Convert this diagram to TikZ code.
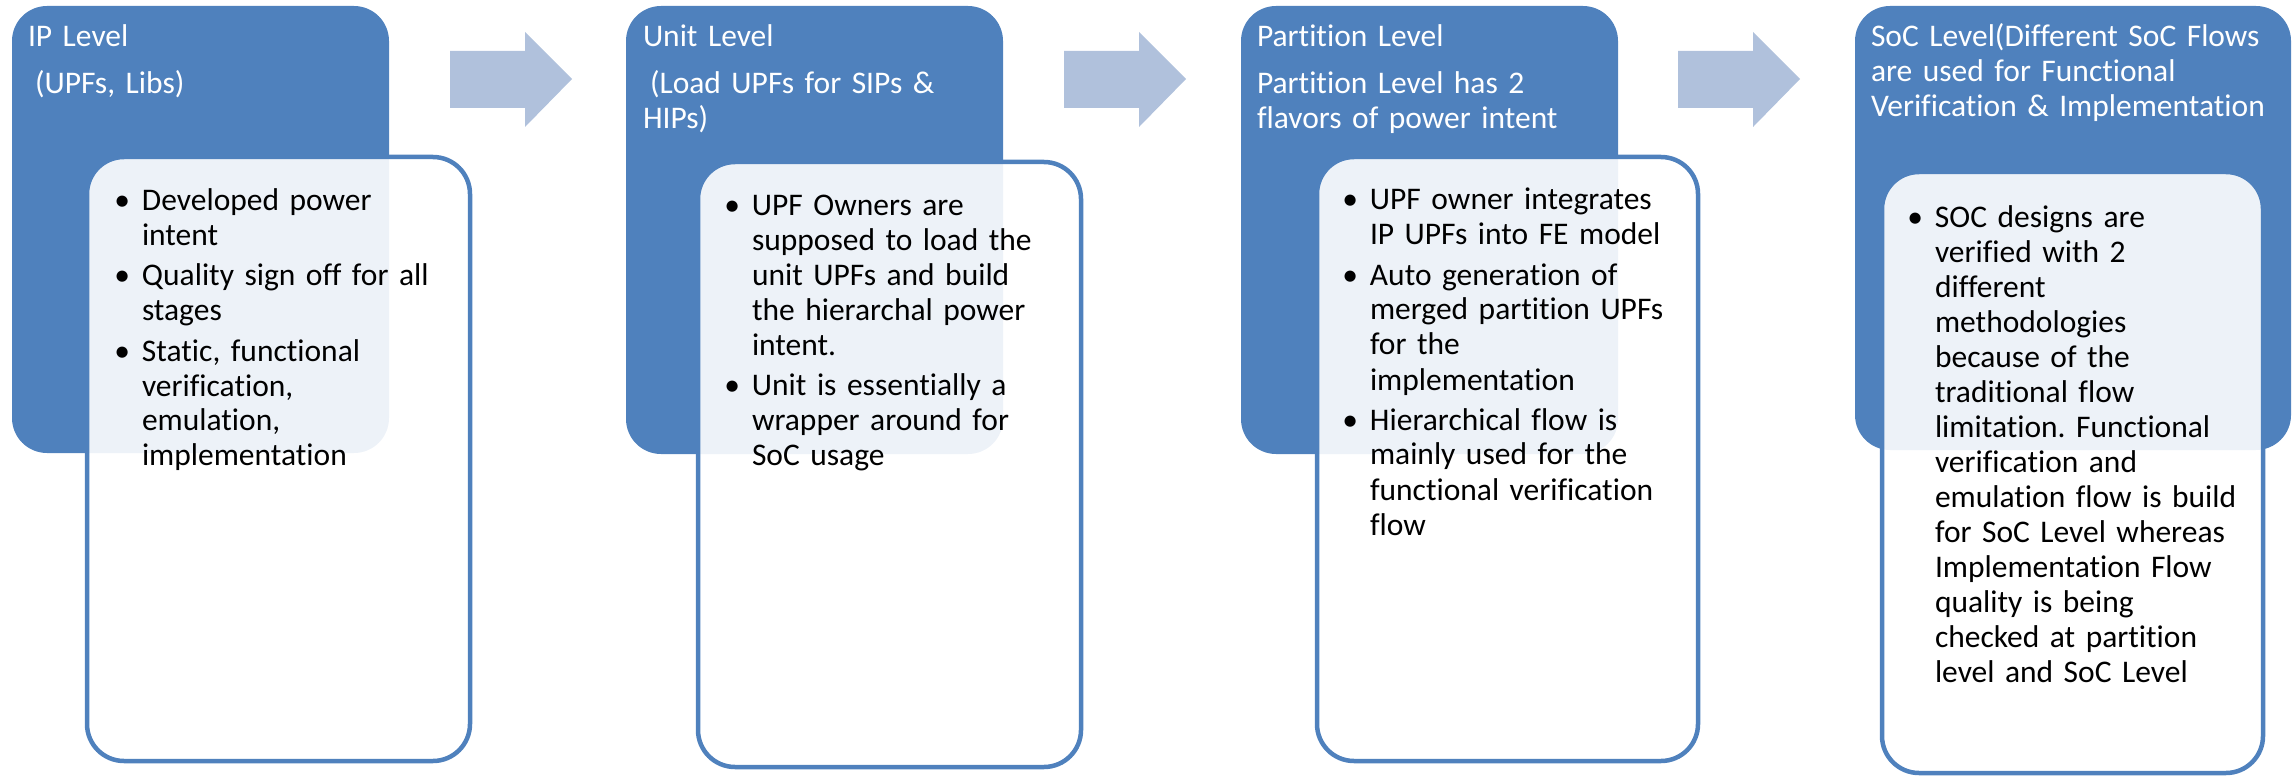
\documentclass[tikz,border=0pt]{standalone}
\usepackage{fontspec}
\setmainfont{Carlito}[Ligatures={NoCommon}]
\frenchspacing
\definecolor{boxblue}{RGB}{79,129,189}
\definecolor{arrowblue}{RGB}{176,193,220}
\newcommand\bl{\leavevmode\llap{\textbullet\hspace{12pt}}}
\tikzset{
  outerbox/.style={rectangle, fill=boxblue, rounded corners=35pt, inner sep=0pt,
    outer sep=0pt, anchor=north west},
  innerbox/.style={rectangle, draw=boxblue, line width=4.5pt, fill=white,
    fill opacity=0.9, rounded corners=37pt, inner sep=0pt, outer sep=0pt,
    anchor=north west, minimum width=383pt},
  txt/.style={anchor=base west, inner sep=0pt, outer sep=0pt, align=left,
    font=\fontsize{31.5pt}{35pt}\selectfont\frenchspacing},
  titletxt/.style={txt, text width=440pt, text=white},
  bodytxt/.style={txt, text width=420pt, text=black},
  blockarrow/.style={fill=arrowblue}
}
\begin{document}
\begin{tikzpicture}[x=1pt, y=-1pt]
\useasboundingbox (0,0) rectangle (2293,778);

% level boxes
\node[outerbox, minimum width=377pt, minimum height=447pt] (o1) at (12,6) {};
\node[outerbox, minimum width=377pt, minimum height=448pt] (o2) at (626,6) {};
\node[outerbox, minimum width=377pt, minimum height=448pt] (o3) at (1241,6) {};
\node[outerbox, minimum width=436pt, minimum height=444pt] (o4) at (1855,6) {};

% block arrows between the levels
\foreach \dx/\nm in {0/a1, 614/a2, 1228/a3} {
  \coordinate (\nm) at (450+\dx,79);
  \fill[blockarrow] (\nm) ++(0,-28) -- ++(75,0) -- ++(0,-19) -- ++(47,47)
    -- ++(-47,48) -- ++(0,-19) -- ++(-75,0) -- cycle;
}

% detail boxes
\node[innerbox, minimum height=604pt] (i1) at (87,157) {};
\node[innerbox, minimum height=605pt] (i2) at (698,162) {};
\node[innerbox, minimum height=604pt, minimum width=381pt] (i3) at (1317,157) {};
\node[innerbox, minimum height=601pt, minimum width=381pt] (i4) at (1882,172) {};

% titles
\node[titletxt] (t1) at (28,47) {IP Level\\[12pt]\hspace*{7pt}(UPFs, Libs)};
\node[titletxt] (t2) at (643,47) {Unit Level\\[12pt]\hspace*{7pt}(Load UPFs for SIPs \&\\HIPs)};
\node[titletxt] (t3) at (1257,47) {Partition Level\\[12pt]Partition Level has 2\\flavors of power intent};
\node[titletxt] (t4) at (1871,47) {SoC Level(Different SoC Flows\\are used for Functional\\Verification \& Implementation};

% bullet texts
\node[bodytxt] (b1) at (142,211) {\bl Developed power\\intent\\[5pt]
  \bl Quality sign off for all\\stages\\[5pt]
  \bl Static, functional\\verification,\\emulation,\\implementation};
\node[bodytxt] (b2) at (752,215) {\bl UPF Owners are\\supposed to load the\\unit UPFs and build\\the hierarchal power\\intent.\\[5pt]
  \bl Unit is essentially a\\wrapper around for\\SoC usage};
\node[bodytxt] (b3) at (1370,210) {\bl UPF owner integrates\\IP UPFs into FE model\\[5pt]
  \bl Auto generation of\\merged partition UPFs\\for the\\implementation\\[5pt]
  \bl Hierarchical flow is\\mainly used for the\\functional verification\\flow};
\node[bodytxt] (b4) at (1935,227) {\bl SOC designs are\\verified with 2\\different\\methodologies\\because of the\\traditional flow\\limitation. Functional\\verification and\\emulation flow is build\\for SoC Level whereas\\Implementation Flow\\quality is being\\checked at partition\\level and SoC Level};
\end{tikzpicture}
\end{document}
